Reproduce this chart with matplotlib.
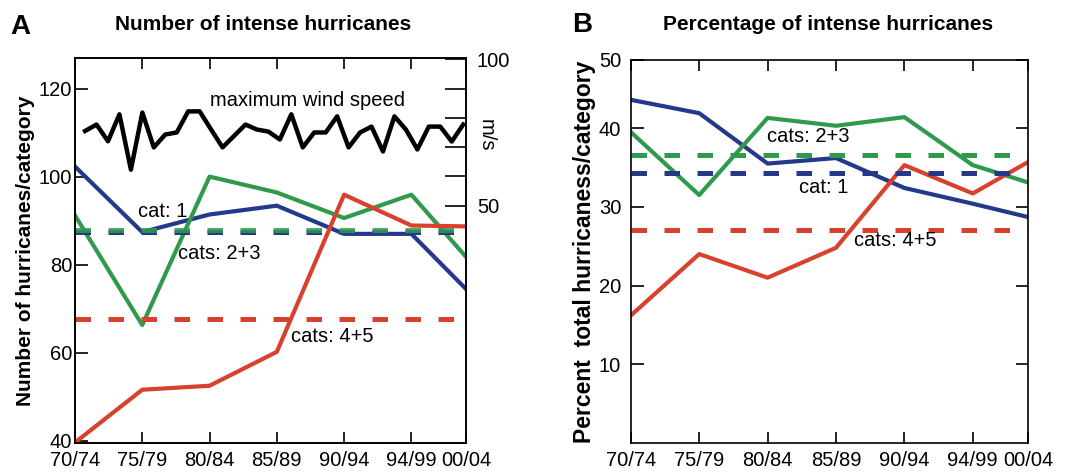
import numpy as np
import matplotlib
matplotlib.use('Agg')
import matplotlib.pyplot as plt

plt.rcParams['font.family'] = ['Liberation Sans', 'DejaVu Sans']

# 时间段 (x 轴)
periods = ['70/74', '75/79', '80/84', '85/89', '90/94', '94/99', '00/04']
period_pos = [0, 1, 2, 3, 4, 5, 5.81]

# A: 每类飓风数量
count_cat1 = [102.3, 87.4, 91.4, 93.4, 87.0, 87.0, 74.5]
count_cat23 = [91.2, 66.3, 100.0, 96.4, 90.6, 95.9, 81.8]
count_cat45 = [39.6, 51.6, 52.5, 60.2, 95.9, 88.9, 88.7]
count_mean = {'cat1': 87.4, 'cat23': 87.8, 'cat45': 67.7}

# 最大风速 (m/s), 逐年
wind_speed = [75.5, 77.7, 72.0, 81.2, 62.3, 81.8, 69.9, 74.3, 75.0, 82.2,
              82.2, 76.0, 69.9, 73.8, 77.7, 76.0, 75.3, 72.6, 81.2, 69.9,
              75.0, 75.0, 80.5, 69.9, 75.0, 77.0, 68.5, 80.5, 76.0, 69.2,
              77.0, 77.0, 71.9, 77.7]

# B: 百分比
pct_cat1 = [43.6, 41.9, 35.5, 36.2, 32.4, 30.4, 28.7]
pct_cat23 = [39.5, 31.5, 41.3, 40.3, 41.4, 35.3, 33.1]
pct_cat45 = [16.2, 24.0, 21.0, 24.8, 35.3, 31.7, 35.7]
pct_mean = {'cat1': 34.3, 'cat23': 36.6, 'cat45': 27.0}

blue = '#24398a'
green = '#2f9a4c'
red = '#d8412e'
fs = 14.5

fig = plt.figure(figsize=(10.71, 4.75), dpi=100)
axA = fig.add_axes([0.070, 0.0674, 0.365, 0.811])
axB = fig.add_axes([0.589, 0.0674, 0.371, 0.807])

dash = (3.1, 3.5)

# ---------- panel A ----------
axA.plot(period_pos, count_cat1, color=blue, lw=3)
axA.plot(period_pos, count_cat23, color=green, lw=3)
axA.plot(period_pos, count_cat45, color=red, lw=3)
axA.axhline(count_mean['cat1'], color=blue, lw=3.6, dashes=dash)
axA.axhline(count_mean['cat23'], color=green, lw=3.6, dashes=dash, alpha=0.85)
axA.axhline(count_mean['cat45'], color=red, lw=3.6, dashes=dash)
axA.set_xlim(0, 5.81)
axA.set_ylim(39.5, 127)
axA.set_yticks([40, 60, 80, 100, 120])
axA.set_xticks(period_pos, periods)
axA.tick_params(axis='both', direction='in', labelsize=fs, width=1.2)
axA.tick_params(axis='y', length=9, pad=2)
axA.tick_params(axis='x', top=True, length=8, pad=6)
axA.set_ylabel('Number of hurricanes/category', fontsize=15, fontweight='bold', labelpad=3)

axW = axA.twinx()
wind_x = np.linspace(0.15, 5.77, len(wind_speed))
axW.plot(wind_x, wind_speed, color='black', lw=3.2)
axW.set_ylim(-31, 100.5)
axW.set_yticks([50, 60, 70, 80, 90, 100], ['50', '', '', '', '', '100'])
axW.tick_params(axis='y', direction='in', length=15, width=1.2, pad=8, labelsize=fs)
axW.set_ylabel('m/s', fontsize=fs, rotation=-90)
axW.yaxis.set_label_coords(1.075, 0.80)

axA.text(3.45, 117.3, 'maximum wind speed', fontsize=fs, ha='center', va='center')
axA.text(1.31, 92.0, 'cat: 1', fontsize=fs, ha='center', va='center')
axA.text(2.15, 82.5, 'cats: 2+3', fontsize=fs, ha='center', va='center')
axA.text(3.83, 63.6, 'cats: 4+5', fontsize=fs, ha='center', va='center')

# ---------- panel B ----------
axB.plot(period_pos, pct_cat1, color=blue, lw=3)
axB.plot(period_pos, pct_cat23, color=green, lw=3)
axB.plot(period_pos, pct_cat45, color=red, lw=3)
axB.axhline(pct_mean['cat23'], color=green, lw=3.6, dashes=dash)
axB.axhline(pct_mean['cat1'], color=blue, lw=3.6, dashes=dash)
axB.axhline(pct_mean['cat45'], color=red, lw=3.6, dashes=dash)
axB.set_xlim(0, 5.81)
axB.set_ylim(0, 48.7)
axB.set_yticks([10, 20, 30, 40, 48.7], ['10', '20', '30', '40', '50'])
axB.set_xticks(period_pos, periods)
axB.tick_params(axis='both', direction='in', labelsize=fs, width=1.2)
axB.tick_params(axis='y', right=True, length=9, pad=7)
axB.tick_params(axis='x', top=True, length=8, pad=6)
axB.set_ylabel('Percent  total hurricaness/category', fontsize=16.5, fontweight='bold', labelpad=2)

axB.text(2.6, 38.9, 'cats: 2+3', fontsize=fs, ha='center', va='center')
axB.text(2.82, 32.4, 'cat: 1', fontsize=fs, ha='center', va='center')
axB.text(3.87, 25.7, 'cats: 4+5', fontsize=fs, ha='center', va='center')

for ax in (axA, axB, axW):
    for s in ax.spines.values():
        s.set_linewidth(1.2)

# 标题
fig.text(263 / 1071, 1 - 25 / 475, 'Number of intense hurricanes', fontsize=15,
         fontweight='bold', ha='center', va='center')
fig.text(828 / 1071, 1 - 25 / 475, 'Percentage of intense hurricanes', fontsize=15,
         fontweight='bold', ha='center', va='center')
fig.text(20 / 1071, 1 - 27 / 475, 'A', fontsize=20, fontweight='bold', ha='center', va='center')
fig.text(582 / 1071, 1 - 25 / 475, 'B', fontsize=20, fontweight='bold', ha='center', va='center')

fig.savefig('out.png', dpi=100)
